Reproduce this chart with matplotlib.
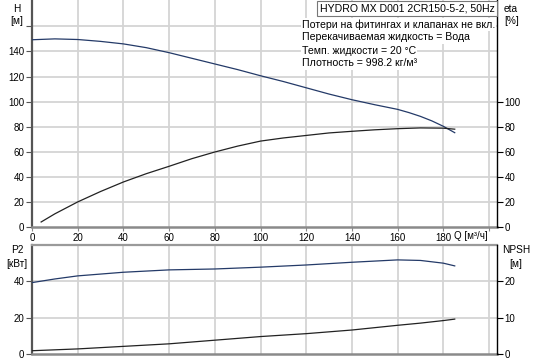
import numpy as np
import matplotlib
matplotlib.use('Agg')
from matplotlib import pyplot as plt

plt.rcParams['font.family'] = ['Liberation Sans', 'DejaVu Sans']
plt.rcParams['font.size'] = 7

# head curve H [m]
q_h = [0, 10, 20, 30, 40, 50, 60, 70, 80, 90, 100, 110, 120, 130, 140, 150, 160, 165, 170, 175, 180, 185]
h = [149.3, 150, 149.5, 148, 146, 143, 139, 134.5, 130, 125.5, 120.6, 116, 111, 106, 101.5, 97.5, 93.8, 91.2, 88.2, 84.6, 80.3, 75.2]

# efficiency eta [%]
q_eta = [4, 10, 20, 30, 40, 50, 60, 70, 80, 90, 100, 110, 120, 130, 140, 150, 160, 170, 180, 185]
eta = [4, 10.5, 20, 28.3, 35.9, 42.5, 48.4, 54.5, 59.8, 64.5, 68.5, 71, 73, 75, 76.3, 77.5, 78.4, 79, 78.8, 78]

# power P2 [kW] and NPSH [m]
q_p = [0, 10, 20, 40, 60, 80, 100, 120, 140, 160, 170, 180, 185]
p2 = [39.3, 41.3, 43, 45, 46.3, 46.8, 47.8, 49, 50.5, 51.8, 51.5, 50, 48.5]
npsh = [0.9, 1.15, 1.4, 2.1, 2.8, 3.8, 4.8, 5.6, 6.6, 7.9, 8.5, 9.2, 9.6]

x_ticks = list(range(0, 181, 20))
h_ticks = list(range(0, 141, 20))
eta_ticks = list(range(0, 101, 20))
p2_ticks = [0, 20, 40]
npsh_ticks = [0, 10, 20]

W, H_PX = 536, 363
XMAX = 203.5
GRID = '#d4d4d4'
BLUE = '#243a68'
INFO_FS = 7.6


def px(x, y):
    """pixel position -> figure fraction"""
    return x / W, 1 - y / H_PX


def style_axes(ax, grid_y):
    ax.set_xlim(0, XMAX)
    for gx in range(20, 201, 20):
        ax.axvline(gx, color=GRID, lw=1.3, zorder=0)
    for gy in grid_y:
        ax.axhline(gy, color=GRID, lw=1.3, zorder=0)
    ax.spines['left'].set_color('#555555')
    ax.spines['left'].set_linewidth(1.6)
    ax.spines['right'].set_visible(False)
    ax.tick_params(axis='y', direction='out', length=4, width=0.8, color='#555555',
                   pad=1.5, labelsize=7)


fig = plt.figure(figsize=(W / 100, H_PX / 100), dpi=100)

# top chart: H and eta
ax = fig.add_axes([32 / W, (H_PX - 227) / H_PX, 465 / W, 227 / H_PX])
style_axes(ax, range(20, 161, 20))
ax.set_ylim(0, 181)
ax.spines['top'].set_visible(False)
ax.spines['bottom'].set_color('#8a8a8a')
ax.spines['bottom'].set_linewidth(1.8)
ax.set_xticks(x_ticks + [200])
ax.set_xticklabels([str(v) for v in x_ticks] + [''])
ax.tick_params(axis='x', direction='out', length=3, width=0.8, color='#8a8a8a', pad=1.5, labelsize=7)
ax.set_yticks(h_ticks + [160])
ax.set_yticklabels([str(v) for v in h_ticks] + [''])
ax.plot(q_h, h, color=BLUE, lw=0.9, zorder=3)
ax.plot(q_eta, eta, color='#222222', lw=0.9, zorder=3)
ax.text(199.5, -3.5, 'Q [м³/ч]', ha='right', va='top', fontsize=7)

ax_r = ax.twinx()
ax_r.set_ylim(0, 181)
ax_r.set_xlim(0, XMAX)
for s in ['left', 'top', 'bottom']:
    ax_r.spines[s].set_visible(False)
ax_r.spines['right'].set_color('black')
ax_r.spines['right'].set_linewidth(1.0)
ax_r.set_yticks(eta_ticks)
ax_r.tick_params(axis='y', direction='out', length=4, width=0.8, pad=1.5, labelsize=7)

# bottom chart: P2 and NPSH
bx = fig.add_axes([32 / W, (H_PX - 354) / H_PX, 465 / W, 109 / H_PX])
style_axes(bx, [20, 40])
bx.set_ylim(0, 60)
bx.spines['top'].set_color('#9a9a9a')
bx.spines['top'].set_linewidth(1.6)
bx.spines['bottom'].set_color('#8a8a8a')
bx.spines['bottom'].set_linewidth(1.8)
bx.set_xticks([])
bx.set_yticks(p2_ticks)
bx.plot(q_p, p2, color=BLUE, lw=0.9, zorder=3)

bx_r = bx.twinx()
bx_r.set_ylim(0, 30)
bx_r.set_xlim(0, XMAX)
for s in ['left', 'top', 'bottom']:
    bx_r.spines[s].set_visible(False)
bx_r.spines['right'].set_color('black')
bx_r.spines['right'].set_linewidth(1.0)
bx_r.set_yticks(npsh_ticks)
bx_r.tick_params(axis='y', direction='out', length=4, width=0.8, pad=1.5, labelsize=7)
bx_r.plot(q_p, npsh, color='#222222', lw=0.9, zorder=3)

# axis captions
fig.text(*px(17, 9), 'H', ha='center', va='center', fontsize=7.3)
fig.text(*px(17, 21), '[м]', ha='center', va='center', fontsize=7.3)
fig.text(*px(504, 9), 'eta', ha='left', va='center', fontsize=7.3)
fig.text(*px(504, 21), '[%]', ha='left', va='center', fontsize=7.3)
fig.text(*px(17, 250), 'P2', ha='center', va='center', fontsize=7.3)
fig.text(*px(17, 264), '[кВт]', ha='center', va='center', fontsize=7.3)
fig.text(*px(516, 250), 'NPSH', ha='center', va='center', fontsize=7.3)
fig.text(*px(516, 264), '[м]', ha='center', va='center', fontsize=7.3)

# info box
fig.text(*px(407, 8.5), 'HYDRO MX D001 2CR150-5-2, 50Hz', ha='center', va='center', fontsize=INFO_FS,
         bbox=dict(boxstyle='square,pad=0.2', facecolor='white', edgecolor='#777777', lw=0.8))
info = ['Потери на фитингах и клапанах не вкл.',
        'Перекачиваемая жидкость = Вода',
        'Темп. жидкости = 20 °C',
        'Плотность = 998.2 кг/м³']
for i, line in enumerate(info):
    fig.text(*px(302, 24.5 + i * 13), line, ha='left', va='center', fontsize=INFO_FS,
             bbox=dict(boxstyle='square,pad=0.1', facecolor='white', edgecolor='none'))

fig.savefig('out.png', dpi=100)
